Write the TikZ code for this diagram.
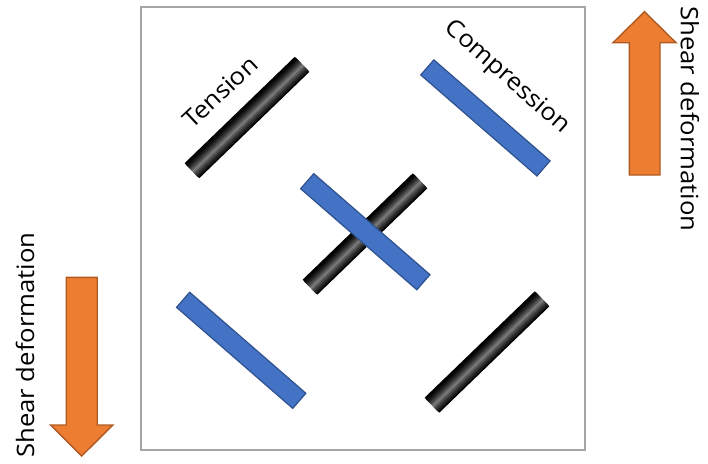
\documentclass[tikz,border=0pt]{standalone}
\usepackage{fontspec}
\setmainfont[FakeStretch=1.07]{Open Sans}
\usetikzlibrary{calc}
\begin{document}
\begin{tikzpicture}[x=1pt,y=-1pt,
  tensionbar/.style={rectangle, minimum width=153pt, minimum height=21pt,
    inner sep=0pt, fill=black},
  compbar/.style={rectangle, minimum width=154pt, minimum height=20pt,
    inner sep=0pt, fill=barblue, draw=barblueedge, line width=1.2pt},
  shear/.style={fill=shearorange, draw=shearorangeedge, line width=1.4pt, line join=miter},
  label/.style={font=\fontsize{24}{28}\selectfont, inner sep=0pt}]
\definecolor{barblue}{RGB}{68,114,196}
\definecolor{barblueedge}{RGB}{47,82,143}
\definecolor{shearorange}{RGB}{237,125,49}
\definecolor{shearorangeedge}{RGB}{174,90,33}
\definecolor{framegray}{RGB}{166,166,166}
\useasboundingbox (0,0) rectangle (708,463);

% frame
\draw[framegray, line width=2pt] (141,7) rectangle (585,450);

% tension bars, with a cylinder-like sheen across their width
\node[tensionbar, rotate=44] (t1) at (247,117.5) {};
\node[tensionbar, rotate=44] (t2) at (365,234) {};
\node[tensionbar, rotate=44] (t3) at (487,352) {};
\foreach \b in {t1,t2,t3}{
  \foreach \i in {2,...,18}{
    \pgfmathsetmacro\lite{50*(1-abs(\i-9)/10)^1.5}
    \draw[line width=1.3pt, color=white!\lite!black]
      ($(\b.south west)!\i/20!(\b.north west)$) -- ($(\b.south east)!\i/20!(\b.north east)$);
  }
}

% compression bars
\node[compbar, rotate=-41] (c1) at (485.4,117.9) {};
\node[compbar, rotate=-41] (c2) at (365.3,231.7) {};
\node[compbar, rotate=-41] (c3) at (241.2,350.3) {};

% bar labels
\node[label, rotate=43] (tl) at (220,92) {Tension};
\node[label, rotate=-41.5] (cl) at (507,77.5) {Compression};

% shear arrows
\draw[shear] (629.3,175) -- (629.3,42.7) -- (613,42.7) -- (644.5,11.7)
  -- (676,42.7) -- (660,42.7) -- (660,175) -- cycle;
\draw[shear] (66.2,277.3) -- (66.2,425) -- (50.5,425) -- (81.7,456)
  -- (112.9,425) -- (97.2,425) -- (97.2,277.3) -- cycle;

% shear labels
\node[label, rotate=-90] (sr) at (690,119) {Shear deformation};
\node[label, rotate=90] (sl) at (25,345) {Shear deformation};
\end{tikzpicture}
\end{document}
